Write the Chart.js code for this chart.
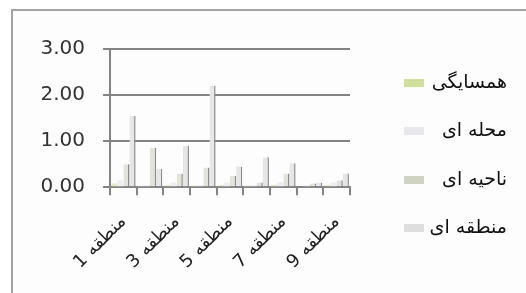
<!DOCTYPE html>
<html>
<head>
<meta charset="utf-8">
<script src="https://cdn.jsdelivr.net/npm/chart.js@4"></script>
<style>
  html, body { margin: 0; background: #ffffff; overflow: hidden; }
  #frame { position: absolute; left: 11px; top: 9px; width: 560px; height: 330px; border: 2px solid #a3a3a3; background: #fdfdfd; }
  #wrap { position: absolute; left: 0; top: 0; width: 526px; height: 293px; }
</style>
</head>
<body>
<div id="frame"></div>
<div id="wrap"><canvas id="grafico" dir="rtl"></canvas></div>
<script>
// categorias (eixo x)
const regioes = ["منطقه 1", "منطقه 2", "منطقه 3", "منطقه 4", "منطقه 5", "منطقه 6", "منطقه 7", "منطقه 8", "منطقه 9"];
const nomesSeries = ["همسایگی", "محله ای", "ناحیه ای", "منطقه ای"];

// valores de cada serie
const hamsayegi = [0.08, 0.03, 0.05, 0.03, 0.05, 0.03, 0.05, 0.02, 0.05];
const mahalle = [0.15, 0.05, 0.10, 0.05, 0.10, 0.05, 0.10, 0.05, 0.10];
const nahie = [0.50, 0.85, 0.30, 0.43, 0.25, 0.10, 0.30, 0.08, 0.15];
const mantaghe = [1.55, 0.40, 0.90, 2.20, 0.45, 0.65, 0.52, 0.10, 0.30];

// ticks do eixo y
const ticksY = [0, 1, 2, 3];

const cinza = "#848484";
const coresFundo = ["#e3ecc4", "#eceef2", "#e2e4da", "#e6e6e6"];
const coresLegenda = ["#cfe09a", "#e6e8ee", "#cfd3c2", "#dedede"];

// legenda desenhada a mao (lado direito)
const legendaPlugin = {
  id: "legendaDireita",
  afterDraw(chart) {
    const ctx = chart.ctx;
    ctx.save();
    ctx.direction = "rtl";
    ctx.font = "19px 'DejaVu Sans'";
    ctx.textBaseline = "middle";
    const ys = [83, 131, 180, 228];
    chart.data.datasets.forEach(function (ds, i) {
      ctx.fillStyle = coresLegenda[i];
      ctx.fillRect(404, ys[i] - 4, 20, 8);
      ctx.fillStyle = "#111";
      ctx.textAlign = "right";
      ctx.fillText(ds.label, 507, ys[i]);
    });
    ctx.restore();
  },
};

const series = [hamsayegi, mahalle, nahie, mantaghe];

new Chart(document.getElementById("grafico"), {
  type: "bar",
  data: {
    labels: regioes,
    datasets: series.map(function (valores, i) {
      return {
        label: nomesSeries[i],
        data: valores,
        backgroundColor: coresFundo[i],
        borderColor: "#8a8a8a",
        borderWidth: i >= 2 ? { right: 1.5, top: 0, left: 0, bottom: 0 } : 0,
        categoryPercentage: 0.92,
        barPercentage: 1,
      };
    }),
  },
  options: {
    responsive: true,
    maintainAspectRatio: false,
    animation: false,
    layout: { padding: { left: 22.5, top: 49, right: 176, bottom: 4 } },
    plugins: {
      legend: { display: false },
      tooltip: { enabled: false },
    },
    scales: {
      x: {
        offset: true,
        grid: { drawOnChartArea: false, drawTicks: true, tickLength: 8, color: cinza, lineWidth: 2, offset: true },
        border: { color: cinza, width: 2 },
        ticks: {
          autoSkip: false,
          maxRotation: 45,
          minRotation: 45,
          padding: 16,
          color: "#222",
          font: { family: "DejaVu Sans", size: 18 },
          callback: function (v, i) {
            return i % 2 === 0 ? this.getLabelForValue(v) : "";
          },
        },
      },
      y: {
        min: ticksY[0],
        max: ticksY[ticksY.length - 1],
        afterBuildTicks: function (axis) {
          axis.ticks = ticksY.map(function (v) { return { value: v }; });
        },
        grid: { color: cinza, lineWidth: 2, tickLength: 7 },
        border: { color: cinza, width: 2 },
        ticks: {
          padding: 18,
          color: "#333",
          font: { family: "DejaVu Sans", size: 20 },
          callback: function (v) { return Number(v).toFixed(2); },
        },
      },
    },
  },
  plugins: [legendaPlugin],
});
</script>
</body>
</html>
